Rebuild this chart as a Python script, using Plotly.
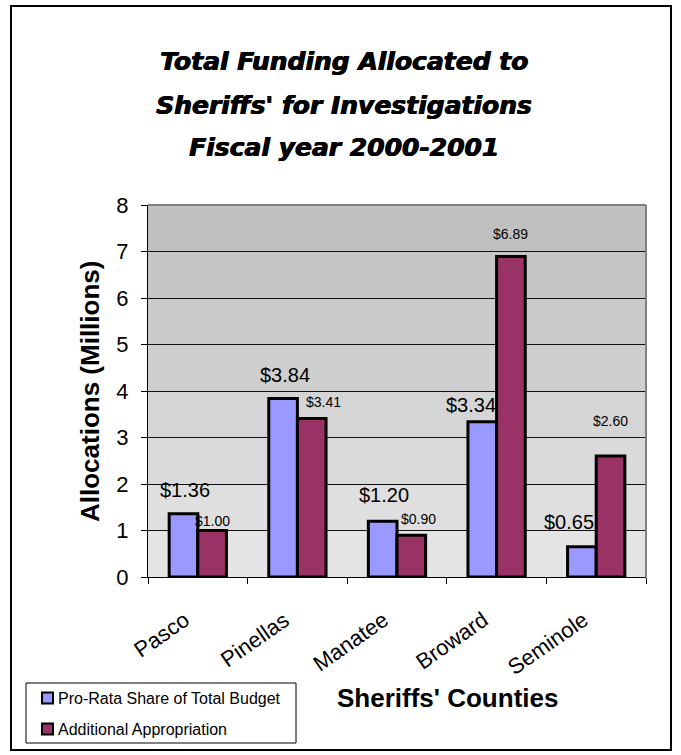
import plotly.graph_objects as go

counties = ["Pasco", "Pinellas", "Manatee", "Broward", "Seminole"]
pro_rata = [1.36, 3.84, 1.20, 3.34, 0.65]
additional = [1.00, 3.41, 0.90, 6.89, 2.60]
y_ticks = [0, 1, 2, 3, 4, 5, 6, 7, 8]
series_names = ["Pro-Rata Share of Total Budget", "Additional Appropriation"]
series_colors = ["#9999ff", "#993366"]
title_lines = ["Total Funding Allocated to", "Sheriffs' for Investigations", "Fiscal year 2000-2001"]

# label pixel offsets (style, not data)
pro_dx = [-13, -12, -13, -26, -27]
pro_dy = [24, 23, 26, 17, 25]
add_dx = [15, 26, 21, 14, 14]
add_dy = [10, 16, 16, 23, 35]

W, H = 681, 755
L, R, T, B = 148, 35, 205, 178
PW, PH = W - L - R, H - T - B

def px(x):
    return (x - L) / PW

def py(y):
    return (H - B - y) / PH

FONT = "Liberation Sans"
TFONT = "DejaVu Sans"

fig = go.Figure()
for name, vals, col in zip(series_names, [pro_rata, additional], series_colors):
    fig.add_trace(go.Bar(x=counties, y=vals, name=name, showlegend=False,
                         marker=dict(color=col, line=dict(color="black", width=3))))

ann = []
for i, c in enumerate(counties):
    ann.append(dict(x=c, y=pro_rata[i], xref="x", yref="y", text="$%.2f" % pro_rata[i],
                    showarrow=False, xshift=pro_dx[i], yshift=pro_dy[i], yanchor="middle",
                    font=dict(size=20, color="black", family=FONT)))
    ann.append(dict(x=c, y=additional[i], xref="x", yref="y", text="$%.2f" % additional[i],
                    showarrow=False, xshift=add_dx[i], yshift=add_dy[i], yanchor="middle",
                    font=dict(size=14, color="black", family=FONT)))
    # rotated category label
    ann.append(dict(x=c, y=0, xref="x", yref="y", text=c, textangle=-35,
                    showarrow=False, xanchor="right", yanchor="top", xshift=-1, yshift=-27,
                    font=dict(size=22, color="black", family=FONT)))

for k, line in enumerate(title_lines):
    ann.append(dict(x=px(344), y=py(62 + 43 * k), xref="paper", yref="paper", text="<b><i>%s</i></b>" % line,
                    showarrow=False, xanchor="center", yanchor="middle",
                    font=dict(size=25, color="black", family=TFONT,
                              shadow="0.7px 0 0 black, -0.3px 0 0 black")))

ann.append(dict(x=px(90), y=py(392), xref="paper", yref="paper", text="<b>Allocations (Millions)</b>",
                textangle=-90, showarrow=False, xanchor="center", yanchor="middle",
                font=dict(size=26, color="black", family=FONT)))
ann.append(dict(x=px(447), y=py(698), xref="paper", yref="paper", text="<b>Sheriffs' Counties</b>",
                showarrow=False, xanchor="center", yanchor="middle",
                font=dict(size=26, color="black", family=FONT)))

shapes = []
n = len(y_ticks) - 1
lo, hi = (0xe4, 0xe4, 0xe4), (0xc0, 0xc0, 0xc0)
for k in range(n):
    t = k / (n - 1)
    col = tuple(round(lo[j] + (hi[j] - lo[j]) * t) for j in range(3))
    shapes.append(dict(type="rect", xref="paper", yref="y", x0=0, x1=1, y0=y_ticks[k], y1=y_ticks[k + 1],
                       fillcolor="rgb(%d,%d,%d)" % col, line=dict(width=0), layer="below"))
# gray top/right plot edges
shapes.append(dict(type="line", xref="paper", yref="paper", x0=0, x1=1, y0=1, y1=1,
                   line=dict(color="#808080", width=2)))
shapes.append(dict(type="line", xref="paper", yref="paper", x0=1, x1=1, y0=0, y1=1,
                   line=dict(color="#808080", width=2)))
# outer border
shapes.append(dict(type="rect", xref="paper", yref="paper", x0=px(11), x1=px(671), y0=py(750), y1=py(6),
                   line=dict(color="black", width=2), fillcolor="rgba(0,0,0,0)"))

# manual legend
shapes.append(dict(type="rect", xref="paper", yref="paper", x0=px(26), x1=px(296), y0=py(743), y1=py(683),
                   line=dict(color="black", width=1), fillcolor="white"))
for k, (name, col) in enumerate(zip(series_names, series_colors)):
    cy = 698 + 31 * k
    shapes.append(dict(type="rect", xref="paper", yref="paper", x0=px(42), x1=px(53), y0=py(cy + 5.5), y1=py(cy - 5.5),
                       line=dict(color="black", width=2), fillcolor=col))
    ann.append(dict(x=px(56), y=py(cy), xref="paper", yref="paper", text=name, showarrow=False,
                    xanchor="left", yanchor="middle", font=dict(size=16, color="black", family=FONT)))

fig.update_layout(
    width=W, height=H,
    margin=dict(l=L, r=R, t=T, b=B, pad=0),
    paper_bgcolor="white", plot_bgcolor="rgba(0,0,0,0)",
    barmode="group", bargap=0.425, bargroupgap=0,
    font=dict(family=FONT, color="black"),
    annotations=ann, shapes=shapes,
    showlegend=False,
    xaxis=dict(type="category", range=[-0.5, len(counties) - 0.5], autorange=False,
               tickson="boundaries", ticks="outside", ticklen=6, tickcolor="black",
               showline=True, linecolor="black", linewidth=1, showticklabels=False,
               showgrid=False, zeroline=False),
    yaxis=dict(range=[0, 8], autorange=False, tickvals=y_ticks, ticks="outside", ticklen=6, tickcolor="black",
               showline=True, linecolor="black", linewidth=1,
               showgrid=True, gridcolor="#111111", gridwidth=1, zeroline=False,
               tickfont=dict(size=22, family=FONT, color="black"), ticklabelstandoff=8),
)

fig.write_html("out.html")
